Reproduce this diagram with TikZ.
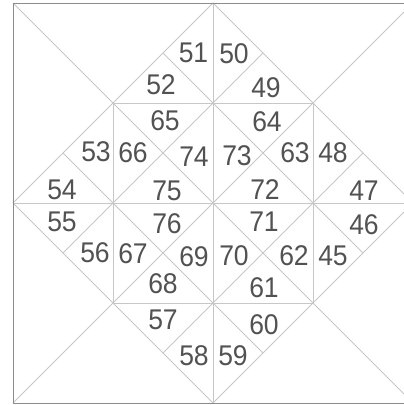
\documentclass[tikz,border=0pt]{standalone}
\usepackage{fontspec}
\setmainfont{Liberation Sans}
\newfontfamily\numfont[FakeStretch=0.93]{Liberation Sans}
\begin{document}
\begin{tikzpicture}[x=1pt,y=-1pt,
  thin line/.style={draw=black!22,line width=0.8pt},
  frame line/.style={draw=black!45,line width=1pt},
  num/.style={inner sep=0pt,text=black!68,font=\numfont\fontsize{28.5}{28.5}\selectfont}]
\useasboundingbox (0,0) rectangle (404,405);
\fill[white] (0,0) rectangle (404,405);
% coordinates
\coordinate (TL) at (13,3);   \coordinate (TR) at (413,3);
\coordinate (BR) at (413,403);\coordinate (BL) at (13,403);
\coordinate (T) at (213,3);   \coordinate (R) at (413,203);
\coordinate (B) at (213,403); \coordinate (L) at (13,203);
\coordinate (ITL) at (113,103); \coordinate (ITR) at (313,103);
\coordinate (IBR) at (313,303); \coordinate (IBL) at (113,303);
\coordinate (IT) at (213,103); \coordinate (IR) at (313,203);
\coordinate (IB) at (213,303); \coordinate (IL) at (113,203);
\coordinate (m1) at (163,53);  \coordinate (m2) at (263,53);
\coordinate (m3) at (363,153); \coordinate (m4) at (363,253);
\coordinate (m5) at (263,353); \coordinate (m6) at (163,353);
\coordinate (m7) at (63,253);  \coordinate (m8) at (63,153);
% lines
\draw[thin line] (TL) -- (BR);
\draw[thin line] (TR) -- (BL);
\draw[thin line] (T) -- (B);
\draw[thin line] (L) -- (R);
\draw[thin line] (T) -- (R) -- (B) -- (L) -- cycle;
\draw[thin line] (ITL) -- (ITR) -- (IBR) -- (IBL) -- cycle;
\draw[thin line] (IT) -- (IR) -- (IB) -- (IL) -- cycle;
\draw[thin line] (m1) -- (IT) -- (m2);
\draw[thin line] (m3) -- (IR) -- (m4);
\draw[thin line] (m5) -- (IB) -- (m6);
\draw[thin line] (m7) -- (IL) -- (m8);
\draw[frame line] (TL) rectangle (BR);
% labels
\node[num] (n51) at (193.5,53) {51};
\node[num] (n50) at (234,54) {50};
\node[num] (n52) at (161,85) {52};
\node[num] (n49) at (266,88) {49};
\node[num] (n65) at (165,121) {65};
\node[num] (n64) at (267,122) {64};
\node[num] (n53) at (96,152) {53};
\node[num] (n66) at (133,153) {66};
\node[num] (n74) at (194,157) {74};
\node[num] (n73) at (237,156) {73};
\node[num] (n63) at (295,153) {63};
\node[num] (n48) at (333,153) {48};
\node[num] (n54) at (62,190) {54};
\node[num] (n75) at (167,191) {75};
\node[num] (n72) at (265,190) {72};
\node[num] (n47) at (364,191) {47};
\node[num] (n55) at (62,222) {55};
\node[num] (n76) at (167,224) {76};
\node[num] (n71) at (264,222) {71};
\node[num] (n46) at (364,225) {46};
\node[num] (n56) at (95,253) {56};
\node[num] (n67) at (133,254) {67};
\node[num] (n69) at (194,257) {69};
\node[num] (n70) at (234,256) {70};
\node[num] (n62) at (294,256) {62};
\node[num] (n45) at (333,256) {45};
\node[num] (n68) at (163,284) {68};
\node[num] (n61) at (264,288) {61};
\node[num] (n57) at (163,320) {57};
\node[num] (n60) at (264,325) {60};
\node[num] (n58) at (194,356) {58};
\node[num] (n59) at (233,356) {59};
\end{tikzpicture}
\end{document}
